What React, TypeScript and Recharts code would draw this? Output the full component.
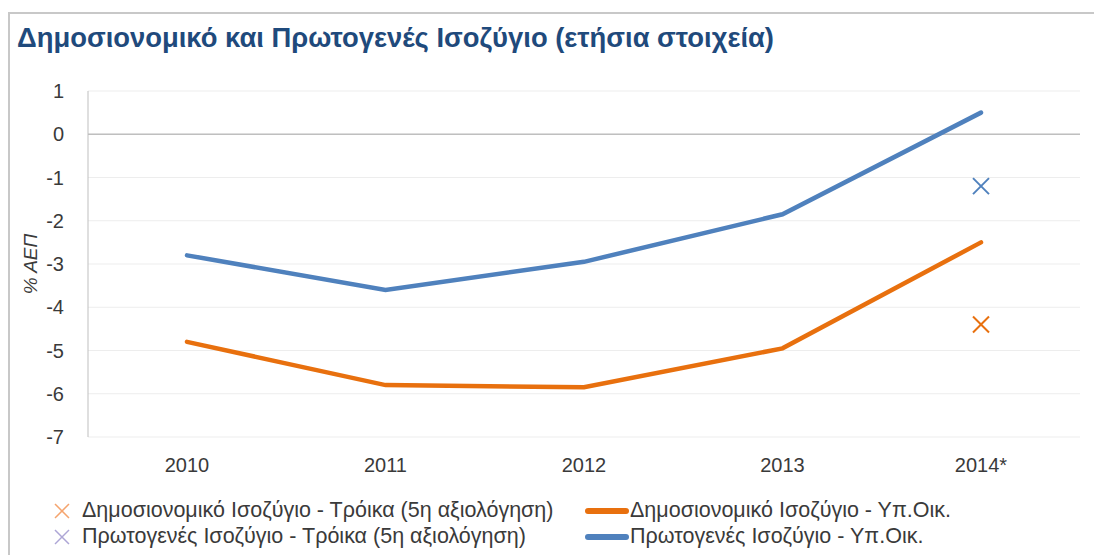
import { LineChart, Line, XAxis, YAxis, CartesianGrid, ReferenceLine } from "recharts";

const years = ["2010", "2011", "2012", "2013", "2014*"];
const fiscalMinFin = [-4.8, -5.8, -5.85, -4.95, -2.5];
const primaryMinFin = [-2.8, -3.6, -2.95, -1.85, 0.5];
const fiscalTroika = [null, null, null, null, -4.4];
const primaryTroika = [null, null, null, null, -1.2];
const yTicks = [1, 0, -1, -2, -3, -4, -5, -6, -7];

const ORANGE = "#E8700E";
const BLUE = "#4F81BD";
const FONT = "'Liberation Sans', Arial, sans-serif";

const data = years.map((y, i) => ({
  year: y,
  fiscalMinFin: fiscalMinFin[i],
  primaryMinFin: primaryMinFin[i],
  fiscalTroika: fiscalTroika[i],
  primaryTroika: primaryTroika[i],
}));

// draws an "x" marker, only where the series has a value
const crossDot = (color: string) => (props: any) => {
  const { cx, cy, value, index } = props;
  if (value == null || cx == null || cy == null) return <g key={index} />;
  const s = 8;
  return (
    <g key={index} stroke={color} strokeWidth={2}>
      <line x1={cx - s} y1={cy - s} x2={cx + s} y2={cy + s} />
      <line x1={cx - s} y1={cy + s} x2={cx + s} y2={cy - s} />
    </g>
  );
};

const LegendCross = ({ color }: { color: string }) => (
  <svg width={18} height={18} style={{ marginRight: 11 }}>
    <line x1={2} y1={2} x2={16} y2={16} stroke={color} strokeWidth={1.5} />
    <line x1={2} y1={16} x2={16} y2={2} stroke={color} strokeWidth={1.5} />
  </svg>
);

const LegendLine = ({ color }: { color: string }) => (
  <svg width={46} height={10} style={{ marginRight: 0 }}>
    <line x1={4} y1={5} x2={42} y2={5} stroke={color} strokeWidth={6} strokeLinecap="round" />
  </svg>
);

const legendItems = [
  { x: 45, y: 490, icon: <LegendCross color="#F5A46E" />, label: "Δημοσιονομικό Ισοζύγιο - Τρόικα (5η αξιολόγηση)" },
  { x: 576, y: 490, icon: <LegendLine color={ORANGE} />, label: "Δημοσιονομικό Ισοζύγιο - Υπ.Οικ." },
  { x: 45, y: 516, icon: <LegendCross color="#ADA6D6" />, label: "Πρωτογενές Ισοζύγιο - Τρόικα (5η αξιολόγηση)" },
  { x: 576, y: 516, icon: <LegendLine color={BLUE} />, label: "Πρωτογενές Ισοζύγιο - Υπ.Οικ." },
];

export default function App() {
  return (
    <div style={{ position: "relative", width: 1094, height: 547, fontFamily: FONT }}>
      <div
        style={{
          position: "absolute",
          left: 0,
          top: 4,
          width: 1094,
          height: 543,
          borderTop: "2px solid #C8C8C8",
          borderLeft: "2px solid #C8C8C8",
        }}
      />
      <div
        style={{
          position: "absolute",
          left: 9,
          top: 14,
          fontSize: 27.4,
          fontWeight: "bold",
          color: "#1F4A7C",
          whiteSpace: "nowrap",
        }}
      >
        Δημοσιονομικό και Πρωτογενές Ισοζύγιο (ετήσια στοιχεία)
      </div>
      <LineChart
        width={1094}
        height={547}
        data={data}
        margin={{ top: 83, right: 22, left: 0, bottom: 0 }}
        style={{ position: "absolute", left: 0, top: 0 }}
      >
        <CartesianGrid vertical={false} stroke="#EDEDED" strokeWidth={1} />
        <XAxis
          dataKey="year"
          axisLine={false}
          tickLine={false}
          tickSize={0}
          tickMargin={21}
          height={118}
          padding={{ left: 99, right: 99 }}
          tick={{ fill: "#3A3A3A", fontSize: 20, fontFamily: FONT }}
        />
        <YAxis
          domain={[-7, 1]}
          ticks={yTicks}
          interval={0}
          width={80}
          axisLine={{ stroke: "#BFBFBF" }}
          tickLine={false}
          tickSize={0}
          tickMargin={24}
          tick={{ fill: "#3A3A3A", fontSize: 20, fontFamily: FONT }}
          label={{
            value: "% ΑΕΠ",
            angle: -90,
            position: "insideLeft",
            offset: 22,
            style: { fill: "#3A3A3A", fontSize: 19, fontStyle: "italic", fontFamily: FONT, textAnchor: "middle" },
          }}
        />
        <ReferenceLine y={0} stroke="#BFBFBF" strokeWidth={1.5} />
        <Line
          dataKey="fiscalMinFin"
          stroke={ORANGE}
          strokeWidth={4.5}
          dot={false}
          strokeLinecap="round"
          isAnimationActive={false}
        />
        <Line
          dataKey="primaryMinFin"
          stroke={BLUE}
          strokeWidth={4.5}
          dot={false}
          strokeLinecap="round"
          isAnimationActive={false}
        />
        <Line
          dataKey="fiscalTroika"
          stroke="none"
          dot={crossDot(ORANGE)}
          activeDot={false}
          isAnimationActive={false}
        />
        <Line
          dataKey="primaryTroika"
          stroke="none"
          dot={crossDot(BLUE)}
          activeDot={false}
          isAnimationActive={false}
        />
      </LineChart>
      {legendItems.map((it) => (
        <div
          key={it.label}
          style={{
            position: "absolute",
            left: it.x,
            top: it.y,
            display: "flex",
            alignItems: "center",
            fontSize: 21.5,
            color: "#3A3A3A",
            whiteSpace: "nowrap",
          }}
        >
          {it.icon}
          <span>{it.label}</span>
        </div>
      ))}
    </div>
  );
}
